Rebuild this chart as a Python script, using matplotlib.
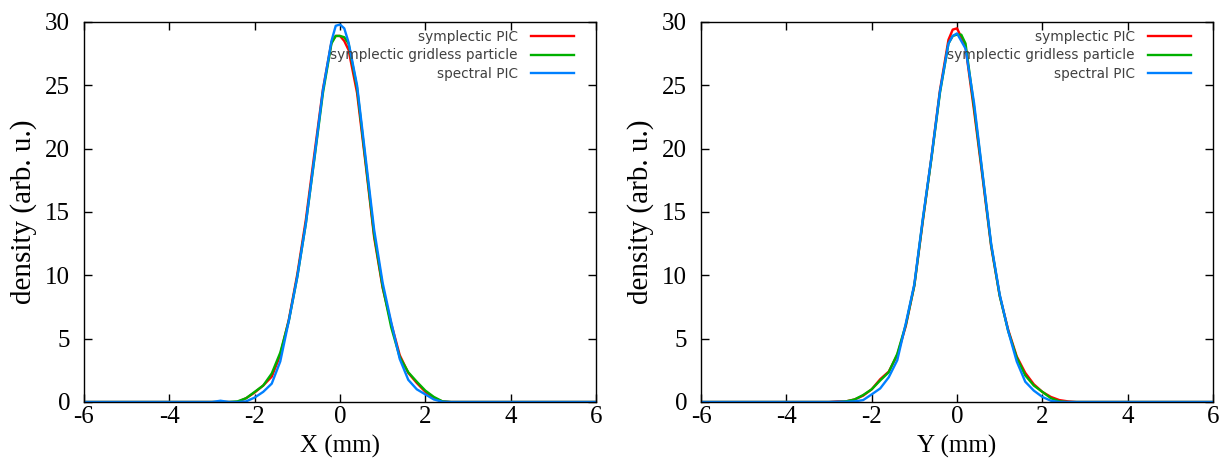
import matplotlib
matplotlib.use("Agg")
import matplotlib.pyplot as plt

# ---------------- data ----------------
pos = [-6, -3.0, -2.8, -2.6, -2.4, -2.2, -2.0, -1.8, -1.6, -1.4, -1.2, -1.0, -0.8, -0.6,
       -0.4, -0.2, -0.1, 0.0, 0.1, 0.2, 0.4, 0.6, 0.8, 1.0, 1.2, 1.4, 1.6, 1.8, 2.0,
       2.2, 2.4, 2.6, 2.8, 6]

# X panel
x_sympic = [0, 0, 0, 0, 0.0, 0.3, 0.75, 1.3, 2.0, 3.7, 6.5, 10.1, 14.4, 19.6, 24.7,
            28.4, 28.9, 28.9, 28.5, 27.8, 24.4, 18.8, 13.0, 9.0, 6.2, 3.7, 2.3, 1.5,
            0.8, 0.3, 0.05, 0, 0, 0]
x_gridless = [0, 0, 0, 0, 0.05, 0.3, 0.8, 1.3, 2.25, 3.9, 6.4, 9.9, 14.1, 19.2, 24.4,
              28.3, 28.9, 28.9, 28.8, 28.3, 24.8, 19.0, 13.2, 9.1, 5.9, 3.55, 2.35,
              1.6, 0.9, 0.4, 0.05, 0, 0, 0]
x_spectral = [0, 0, 0.1, 0, 0, 0.05, 0.35, 0.8, 1.45, 3.2, 6.4, 9.9, 14.1, 19.3, 24.6,
              28.5, 29.7, 29.8, 29.5, 28.4, 25.0, 19.3, 13.6, 9.4, 6.3, 3.4, 1.75,
              1.0, 0.6, 0.2, 0.02, 0, 0, 0]

# Y panel
y_sympic = [0, 0, 0.05, 0.05, 0.2, 0.5, 1.0, 1.8, 2.4, 3.7, 6.0, 9.2, 14.3, 19.3, 24.6,
            28.6, 29.4, 29.5, 28.8, 28.0, 23.0, 17.7, 12.3, 8.4, 5.7, 3.6, 2.3, 1.4,
            0.8, 0.4, 0.15, 0.05, 0, 0]
y_gridless = [0, 0, 0, 0.05, 0.2, 0.55, 1.0, 1.7, 2.35, 3.8, 6.1, 9.2, 14.4, 19.2, 24.4,
              28.3, 28.9, 29.0, 29.0, 28.3, 23.3, 17.9, 12.4, 8.4, 5.6, 3.5, 2.1, 1.3,
              0.8, 0.3, 0.05, 0, 0, 0]
y_spectral = [0, 0, 0.02, 0.02, 0.05, 0.15, 0.6, 1.07, 1.95, 3.3, 6.2, 9.3, 14.5, 19.3,
              24.5, 28.3, 28.9, 29.1, 28.5, 27.9, 23.6, 18.0, 12.5, 8.5, 5.6, 3.2, 1.6,
              0.9, 0.4, 0.1, 0, 0, 0, 0]

labels = ["symplectic PIC", "symplectic gridless particle", "spectral PIC"]
colors = ["#ff0000", "#00b000", "#0080ff"]
xticks = [-6, -4, -2, 0, 2, 4, 6]
yticks = [0, 5, 10, 15, 20, 25, 30]
xlabels = ["X (mm)", "Y (mm)"]

# ---------------- plot ----------------
fig = plt.figure(figsize=(12.27, 4.62), dpi=100)
W, H = 1227, 462
ax1 = fig.add_axes([84 / W, 1 - 402 / H, 512 / W, 380 / H])
ax2 = fig.add_axes([701 / W, 1 - 402 / H, 512 / W, 380 / H])

serif = ["Liberation Serif", "DejaVu Serif"]
panels = [(ax1, [x_sympic, x_gridless, x_spectral]),
          (ax2, [y_sympic, y_gridless, y_spectral])]

for i, (ax, series) in enumerate(panels):
    for s, lab, c in zip(series, labels, colors):
        ax.plot(pos, s, color=c, lw=1.7, label=lab)
    ax.set_xlim(-6, 6)
    ax.set_ylim(0, 30)
    ax.set_xticks(xticks)
    ax.set_yticks(yticks)
    ax.set_xticklabels([str(t) for t in xticks], family=serif, fontsize=18)
    ax.set_yticklabels([str(t) for t in yticks], family=serif, fontsize=18)
    ax.tick_params(direction="in", length=6, width=1, top=True, right=True)
    ax.tick_params(axis="x", pad=3)
    ax.tick_params(axis="y", pad=10)
    for sp in ax.spines.values():
        sp.set_linewidth(1.0)
    ax.set_xlabel(xlabels[i], family=serif, fontsize=18, labelpad=5)
    ax.set_ylabel("density (arb. u.)", family=serif, fontsize=21, labelpad=6)
    leg = ax.legend(loc="upper right", frameon=False, markerfirst=False,
                    bbox_to_anchor=(1 - 15 / 512, 1 - 1 / 380),
                    prop={"family": "DejaVu Sans", "size": 9.8},
                    handlelength=3.2, handletextpad=0.95, labelspacing=0.33,
                    borderaxespad=0.3, borderpad=0.2)
    for t in leg.get_texts():
        t.set_color("#404040")

fig.savefig("out.png", dpi=100)
